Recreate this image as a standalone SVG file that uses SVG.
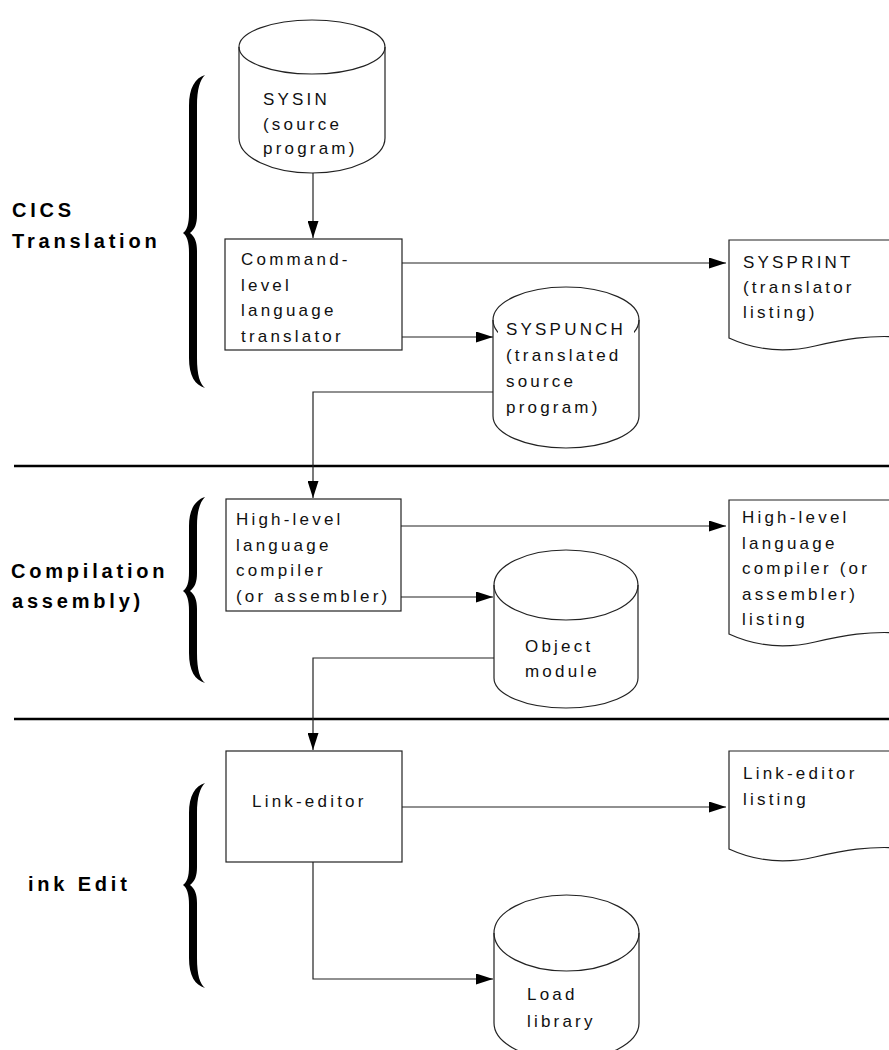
<svg xmlns="http://www.w3.org/2000/svg" width="889" height="1050" viewBox="0 0 889 1050">
<style>
.t{font-family:"Liberation Sans",Arial,sans-serif;font-size:17px;letter-spacing:3.2px;fill:#111}
.b{font-family:"Liberation Sans",Arial,sans-serif;font-size:20px;font-weight:bold;letter-spacing:3.8px;fill:#000}
.s{fill:#fff;stroke:#222;stroke-width:1.2}
.c{fill:none;stroke:#222;stroke-width:1.2}
.rule{stroke:#000;stroke-width:2.5}
.brace{fill:#000}
</style>
<defs>
<marker id="ah" markerUnits="userSpaceOnUse" markerWidth="17" markerHeight="11" viewBox="0 0 17 11" refX="17" refY="5.5" orient="auto">
<path d="M0,0 L17,5.5 L0,11 Z" fill="#000"/>
</marker>
</defs>
<rect width="889" height="1050" fill="#fff"/>

<g id="rules">
<line class="rule" x1="14" y1="466" x2="889" y2="466"/>
<line class="rule" x1="14" y1="719" x2="889" y2="719"/>
</g>

<g id="phase-cics">
<path class="brace" d="M205,75 C195,78 189,88 189,106 L189,213 C189,224 187,230 183,233 C187,236 189,242 189,253 L189,358 C189,376 195,385 205,388 C200,384 197,375 197,358 L197,251 C197,242 195,237 190,233 C195,229 197,224 197,215 L197,106 C197,89 200,80 205,75 Z"/>
<text class="b" x="12" y="217">CICS</text>
<text class="b" x="12" y="248">Translation</text>
</g>

<g id="phase-compile">
<path class="brace" d="M205,497 C195,500 189,510 189,526 L189,572 C189,583 187,588 183,591 C187,594 189,600 189,611 L189,653 C189,671 195,680 205,683 C200,679 197,670 197,653 L197,609 C197,600 195,595 190,591 C195,587 197,582 197,573 L197,526 C197,511 200,502 205,497 Z"/>
<text class="b" x="11" y="578">Compilation</text>
<text class="b" x="12" y="608">assembly)</text>
</g>

<g id="phase-link">
<path class="brace" d="M205,783 C195,786 189,796 189,813 L189,866 C189,877 187,882 183,885 C187,888 189,894 189,905 L189,958 C189,976 195,985 205,988 C200,984 197,975 197,958 L197,903 C197,894 195,889 190,885 C195,881 197,876 197,867 L197,813 C197,797 200,788 205,783 Z"/>
<text class="b" x="28" y="891">ink Edit</text>
</g>

<g id="connectors">
<line class="c" x1="313" y1="173" x2="313" y2="238" marker-end="url(#ah)"/>
<line class="c" x1="402" y1="263" x2="726" y2="263" marker-end="url(#ah)"/>
<line class="c" x1="402" y1="337" x2="493" y2="337" marker-end="url(#ah)"/>
<path class="c" d="M493,392 H313 V498" marker-end="url(#ah)"/>
<line class="c" x1="401" y1="526" x2="726" y2="526" marker-end="url(#ah)"/>
<line class="c" x1="401" y1="597" x2="493" y2="597" marker-end="url(#ah)"/>
<path class="c" d="M494,658 H313 V750" marker-end="url(#ah)"/>
<line class="c" x1="402" y1="807" x2="726" y2="807" marker-end="url(#ah)"/>
<path class="c" d="M313,862 V979 H493" marker-end="url(#ah)"/>
</g>

<g id="sysin">
<path class="s" d="M239,47 V138 A73,35 0 0 0 385,138 V47 A73,27 0 0 0 239,47 Z"/>
<path class="c" d="M239,47 A73,27 0 0 0 385,47"/>
<text class="t" x="263" y="105">SYSIN</text>
<text class="t" x="263" y="129.5">(source</text>
<text class="t" x="263" y="154">program)</text>
</g>

<g id="translator">
<rect class="s" x="225" y="239" width="177" height="111"/>
<text class="t" x="241" y="265">Command-</text>
<text class="t" x="241" y="290.5">level</text>
<text class="t" x="241" y="316">language</text>
<text class="t" x="241" y="341.5">translator</text>
</g>

<g id="sysprint">
<path class="s" d="M900,240 H729 V338 C755,350 785,353 815,346 C845,339 868,335 900,337"/>
<text class="t" x="743" y="268">SYSPRINT</text>
<text class="t" x="743" y="293">(translator</text>
<text class="t" x="743" y="318">listing)</text>
</g>

<g id="syspunch">
<path class="s" d="M493,320 V416 A73,32 0 0 0 639,416 V320 A73,33 0 0 0 493,320 Z"/>
<path class="c" d="M493,320 A73,33 0 0 0 639,320"/>
<rect x="498" y="320" width="136" height="98" fill="#fff"/>
<text class="t" x="506" y="335">SYSPUNCH</text>
<text class="t" x="506" y="361">(translated</text>
<text class="t" x="506" y="387">source</text>
<text class="t" x="506" y="413">program)</text>
</g>

<g id="compiler">
<rect class="s" x="226" y="499" width="175" height="112"/>
<text class="t" x="236" y="525">High-level</text>
<text class="t" x="236" y="550.5">language</text>
<text class="t" x="236" y="576">compiler</text>
<text class="t" x="236" y="601.5">(or assembler)</text>
</g>

<g id="compiler-listing">
<path class="s" d="M900,500 H729 V634 C755,646 785,649 815,642 C845,635 868,631 900,633"/>
<text class="t" x="742" y="523">High-level</text>
<text class="t" x="742" y="548.5">language</text>
<text class="t" x="742" y="574">compiler (or</text>
<text class="t" x="742" y="599.5">assembler)</text>
<text class="t" x="742" y="625">listing</text>
</g>

<g id="object-module">
<path class="s" d="M494,585 V678 A72,30 0 0 0 638,678 V585 A72,35 0 0 0 494,585 Z"/>
<path class="c" d="M494,585 A72,35 0 0 0 638,585"/>
<text class="t" x="525" y="652">Object</text>
<text class="t" x="525" y="677">module</text>
</g>

<g id="link-editor">
<rect class="s" x="226" y="751" width="176" height="111"/>
<text class="t" x="252" y="807">Link-editor</text>
</g>

<g id="link-listing">
<path class="s" d="M900,751 H729 V849 C755,861 785,864 815,857 C845,850 868,846 900,848"/>
<text class="t" x="743" y="779">Link-editor</text>
<text class="t" x="743" y="805">listing</text>
</g>

<g id="load-library">
<path class="s" d="M494,933 V1023 A72.5,37 0 0 0 639,1023 V933 A72.5,38 0 0 0 494,933 Z"/>
<path class="c" d="M494,933 A72.5,38 0 0 0 639,933"/>
<text class="t" x="527" y="1000">Load</text>
<text class="t" x="527" y="1027">library</text>
</g>
</svg>
